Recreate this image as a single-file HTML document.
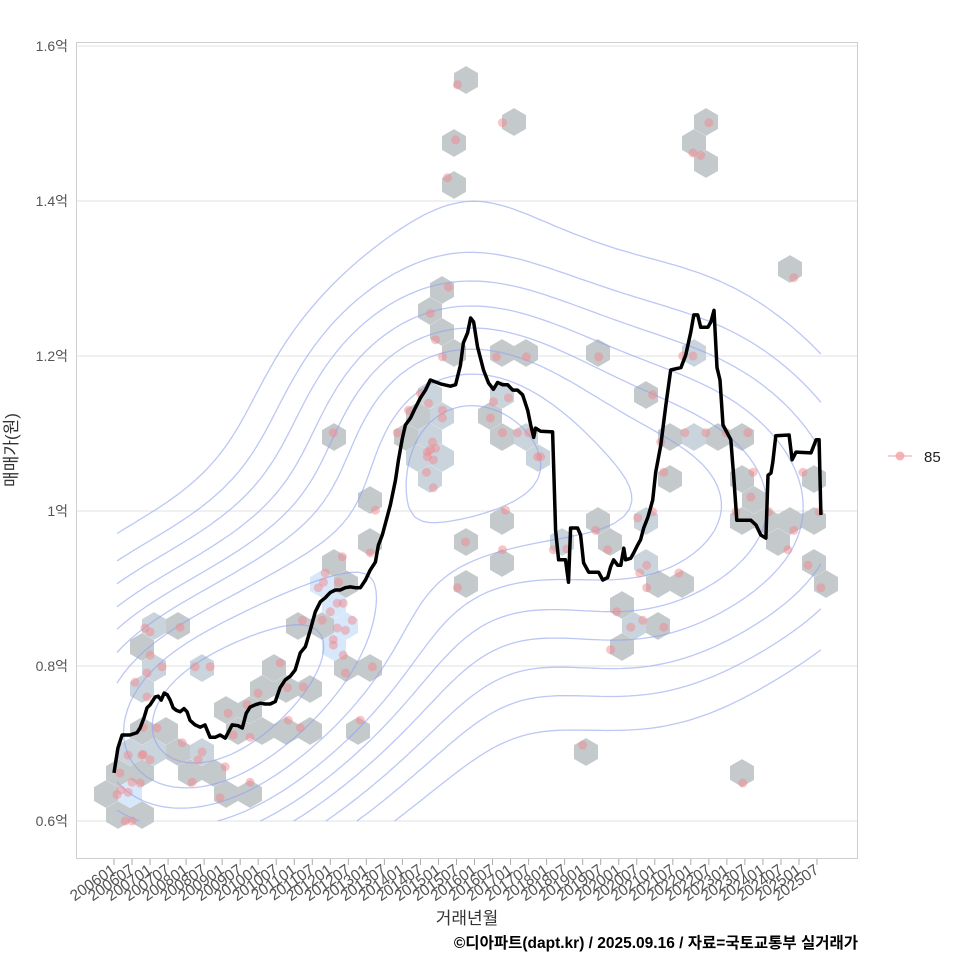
<!DOCTYPE html>
<html><head><meta charset="utf-8"><style>
html,body{margin:0;padding:0;background:#fff;}
svg{display:block;font-family:"Liberation Sans","Noto Sans CJK KR",sans-serif;}
</style></head><body>
<svg id="chart" width="960" height="960" viewBox="0 0 960 960">
<rect x="0" y="0" width="960" height="960" fill="#fff"/>
<g id="grid"></g><g id="hex"></g><g id="contour"></g><g id="pts"></g><g id="line"></g><g id="axes"></g>
<rect x="76.5" y="42.5" width="781" height="816" fill="none" stroke="#cfcfcf"/>
<text x="17" y="450" transform="rotate(-90 17 450)" text-anchor="middle" font-size="17" fill="#333">매매가(원)</text>
<text x="467" y="924" text-anchor="middle" font-size="17" fill="#333">거래년월</text>
<text x="858" y="948" text-anchor="end" font-size="15.5" font-weight="bold" fill="#000">©디아파트(dapt.kr) / 2025.09.16 / 자료=국토교통부 실거래가</text>
<g>
<line x1="888" y1="456" x2="912" y2="456" stroke="#f4a0a8" stroke-width="1.5" opacity="0.7"/>
<circle cx="900" cy="456" r="4.5" fill="#f4a0a8" opacity="0.8"/>
<text x="924" y="462" font-size="15" fill="#222">85</text>
</g>
</svg>
<script>
// data: t = months since 2006-01, v = price (억)
const ptT=[2,2.3,4.7,1,3.7,6,6,8.7,9.7,4.7,9.3,12,9.7,14.3,22.7,29.3,28,26,37,45.3,35.3,38,44.3,48,45.3,39.7,10.3,12,22,12,16,11,7,27,32,11,55.3,57.7,63,58,62,70.3,69.7,74.7,68,72,74.3,76.3,69.3,74.3,77,73,73,79.3,76.3,86,77,82,62.7,76,85.3,87,73,111.3,105.3,107,109.3,127.3,137.3,102,104.7,98,109.3,109.3,126.3,131.3,125.3,94.3,106,105.3,104.3,107,104.3,106.3,104,106.3,129.3,134.3,138,141,130.3,117,129.3,146.3,114.3,114.3,113.7,111,129.3,226.3,161.3,189.3,192.7,179.3,182,190,197,203.7,211,212.7,229.3,183,212,207,218,234.7,179.3,174.3,160.3,164.3,226.3,224.3,231,177.3,175,188,177.3,235.3,167.3,176,172,183,165.3,156,209.3,198,192.7,195.3,150.7,142];
const ptV=[0.662,0.640,0.637,0.634,0.600,0.600,0.650,0.649,0.686,0.685,0.685,0.679,0.721,0.720,0.701,0.689,0.679,0.650,0.670,0.650,0.630,0.739,0.750,0.765,0.708,0.711,0.849,0.844,0.850,0.814,0.799,0.791,0.779,0.799,0.799,0.760,0.804,0.772,0.773,0.730,0.720,0.920,0.908,0.908,0.901,0.870,0.881,0.881,0.859,0.849,0.846,0.834,0.827,0.859,0.814,0.799,0.791,0.730,0.859,0.941,0.946,1.001,1.101,1.289,1.255,1.221,1.199,1.199,1.199,1.152,1.139,1.130,1.130,1.120,1.141,1.146,1.120,1.101,1.089,1.079,1.076,1.081,1.070,1.066,1.050,1.030,1.101,1.101,1.101,1.070,1.001,0.960,0.950,0.950,0.901,1.550,1.479,1.430,1.501,1.301,1.199,1.200,1.200,1.150,1.089,1.101,1.101,1.101,1.101,1.050,1.050,1.050,1.018,0.999,0.999,0.999,0.999,0.991,0.975,0.950,0.975,0.950,0.930,0.930,0.920,0.920,0.901,0.901,0.870,0.859,0.850,0.850,0.821,0.698,0.649,1.501,1.462,1.459,0.951,1.070];
const lineT=[0,1.3,2.7,5.3,7.7,8.7,10,11,12,13.7,14.7,15.7,16.7,17.7,18.7,19.7,20.7,22,23.3,24.3,25.3,27,28.7,30.3,32,33.7,35.3,37,38,39.3,41.3,42.7,44,45.3,47,48.7,50.3,52,53.7,55.3,57,58.7,60.3,62,63.7,65.3,67,68.7,70.3,72,73.7,75.3,77,78.7,80.3,82,83.7,85.3,87,88,89.3,92,93.7,94.7,96,97,98.7,100.3,102,103.7,105.3,108.7,112,113.7,115.3,116.3,117.7,118.7,119.7,121,123,124.7,126.3,127.7,129.3,131,132.7,134.3,136,137.7,138.7,139.7,140.3,142,146,147,148,150.3,151.3,152,154.3,155.3,156.3,158,161.3,162.7,164.3,165.3,166.3,167.7,168.7,169.7,170.3,172,173,174.3,175.3,176.3,177.7,179.3,180.3,182,183.7,185.3,188.7,190.3,192,193,194.3,195.3,197.7,198.7,199.7,200.7,201.7,202.7,205.3,206.3,207.3,212,213.7,215.3,217,217.7,218.7,219.3,220.3,224.7,225.7,227,232,233.7,234.7,235.3];
const lineV=[0.662,0.694,0.711,0.711,0.714,0.720,0.733,0.746,0.750,0.760,0.761,0.756,0.765,0.763,0.756,0.746,0.743,0.741,0.745,0.741,0.730,0.724,0.721,0.724,0.708,0.708,0.711,0.707,0.714,0.724,0.723,0.720,0.739,0.747,0.750,0.752,0.751,0.751,0.754,0.772,0.782,0.787,0.795,0.817,0.825,0.846,0.870,0.883,0.888,0.895,0.898,0.898,0.901,0.902,0.901,0.901,0.911,0.924,0.934,0.956,0.969,1.008,1.040,1.066,1.094,1.111,1.120,1.133,1.146,1.156,1.169,1.164,1.161,1.163,1.188,1.217,1.230,1.249,1.244,1.212,1.182,1.165,1.157,1.166,1.163,1.163,1.156,1.156,1.150,1.130,1.111,1.095,1.107,1.103,1.102,0.975,0.937,0.937,0.908,0.978,0.978,0.969,0.933,0.921,0.921,0.911,0.914,0.928,0.937,0.930,0.930,0.952,0.937,0.939,0.946,0.956,0.963,0.978,0.992,1.014,1.050,1.085,1.137,1.182,1.185,1.201,1.231,1.253,1.253,1.237,1.237,1.244,1.259,1.185,1.169,1.111,1.092,1.043,0.988,0.988,0.982,0.969,0.965,1.046,1.049,1.063,1.097,1.098,1.066,1.076,1.075,1.092,1.092,0.995];
const yTicks=[0.6,0.8,1.0,1.2,1.4,1.6];
const yTickLabels=["0.6억","0.8억","1억","1.2억","1.4억","1.6억"];
const xTickLabels=[];
for(let y=2006;y<=2025;y++){xTickLabels.push(y+"01");xTickLabels.push(y+"07");}

const NS="http://www.w3.org/2000/svg";
const X=t=>114+t*(703/234);
const Y=v=>821-(v-0.6)*775;
function el(tag,attrs,parent){const e=document.createElementNS(NS,tag);for(const k in attrs)e.setAttribute(k,attrs[k]);parent.appendChild(e);return e;}
const G=id=>document.getElementById(id);

yTicks.forEach((v,i)=>{
  const g=el('line',{x1:77,x2:857,y1:Y(v),y2:Y(v),stroke:'#e2e2e2','stroke-width':1},G('grid'));
  
  
  const t=el('text',{x:68,y:Y(v)+5,'text-anchor':'end','font-size':14,fill:'#555'},G('axes'));
  t.textContent=yTickLabels[i];
  
  
});
xTickLabels.forEach((s,i)=>{
  const x=X(i*6);
  const tk=el('line',{x1:x,x2:x,y1:859,y2:865,stroke:'#aaa'},G('axes'));
  
  
  const t=el('text',{x:x+3,y:872,'text-anchor':'end','font-size':15.5,fill:'#555',transform:`rotate(-35 ${x+3} 872)`},G('axes'));
  t.textContent=s;
  
  
});

const HW=24,HR=HW/Math.sqrt(3),HDY=21,OX=454,OY=143;
const bins={};
ptT.forEach((t,i)=>{
  const px=X(t),py=Y(ptV[i]);
  let best=null,bd=1e9;
  const r0=Math.round((py-OY)/HDY);
  for(let r=r0-1;r<=r0+1;r++){
    const off=(((r%2)+2)%2)?HW/2:0;
    const c=Math.round((px-OX-off)/HW);
    for(let cc=c-1;cc<=c+1;cc++){
      const cx=OX+off+cc*HW,cy=OY+r*HDY,d=(cx-px)**2+(cy-py)**2;
      if(d<bd){bd=d;best=[cx,cy];}
    }
  }
  const k=best[0].toFixed(1)+','+best[1].toFixed(1);
  bins[k]=(bins[k]||0)+1;
});
const maxC=Math.max(...Object.values(bins));
for(const k in bins){
  const [cx,cy]=k.split(',').map(Number);const n=bins[k];
  const f=Math.pow((n-1)/Math.max(1,maxC-1),1.5);
  const c1=[196,201,204],c2=[214,232,250];
  const col=`rgb(${c1.map((a,j)=>Math.round(a+(c2[j]-a)*f)).join(',')})`;
  let d='';
  for(let a=0;a<6;a++){const ang=Math.PI/180*(60*a-90);d+=(a?'L':'M')+(cx+HR*Math.cos(ang)).toFixed(1)+','+(cy+HR*Math.sin(ang)).toFixed(1);}
  const h=el('path',{d:d+'Z',fill:col},G('hex'));
  
  
}

function quant(a,q){const s=[...a].sort((x,y)=>x-y);const p=(s.length-1)*q,l=Math.floor(p);return s[l]+(s[Math.min(l+1,s.length-1)]-s[l])*(p-l);}
function bw(a){const n=a.length,m=a.reduce((s,x)=>s+x,0)/n;const sd=Math.sqrt(a.reduce((s,x)=>s+(x-m)**2,0)/(n-1));return 4*1.06*Math.min(sd,(quant(a,.75)-quant(a,.25))/1.34)*Math.pow(n,-0.2);}
const hx=bw(ptT)/4*1.25,hy=bw(ptV)/4*1.35,N=100;
const tmin=Math.min(...ptT),tmax=Math.max(...ptT),vmin=Math.min(...ptV),vmax=Math.max(...ptV);
const gx=[],gy=[];for(let i=0;i<N;i++){gx.push(tmin+(tmax-tmin)*i/(N-1));gy.push(vmin+(vmax-vmin)*i/(N-1));}
const Z=[];let zmax=0;
for(let j=0;j<N;j++){Z.push([]);for(let i=0;i<N;i++){let s=0;for(let k=0;k<ptT.length;k++){const a=(gx[i]-ptT[k])/hx,b=(gy[j]-ptV[k])/hy;s+=Math.exp(-0.5*(a*a+b*b));}Z[j].push(s);if(s>zmax)zmax=s;}}
const levFr=[0.17,0.25,0.33,0.42,0.51,0.6,0.7,0.8,0.9];
levFr.forEach(fr=>{
  const lev=zmax*fr;let d='';
  for(let j=0;j<N-1;j++)for(let i=0;i<N-1;i++){
    const z=[Z[j][i],Z[j][i+1],Z[j+1][i+1],Z[j+1][i]];
    const P=[[gx[i],gy[j]],[gx[i+1],gy[j]],[gx[i+1],gy[j+1]],[gx[i],gy[j+1]]];
    const cr=[];
    for(let e=0;e<4;e++){const a=z[e],b=z[(e+1)%4];if((a<lev)!==(b<lev)){const f=(lev-a)/(b-a);const pa=P[e],pb=P[(e+1)%4];cr.push([X(pa[0]+(pb[0]-pa[0])*f),Y(pa[1]+(pb[1]-pa[1])*f)]);}}
    for(let q=0;q+1<cr.length;q+=2)d+=`M${cr[q][0].toFixed(1)},${cr[q][1].toFixed(1)}L${cr[q+1][0].toFixed(1)},${cr[q+1][1].toFixed(1)}`;
  }
  if(d){const c=el('path',{d:d,fill:'none',stroke:'#8fa2ee','stroke-width':1.3,opacity:0.6},G('contour'));
  
  }
});

ptT.forEach((t,i)=>{
  const c=el('circle',{cx:X(t),cy:Y(ptV[i]),r:4.5,fill:'#f08a90',opacity:0.5},G('pts'));
  
  
});
const ln=el('path',{d:lineT.map((t,i)=>(i?'L':'M')+X(t).toFixed(1)+','+Y(lineV[i]).toFixed(1)).join(''),fill:'none',stroke:'#000','stroke-width':3.5,'stroke-linejoin':'round'},G('line'));


</script>
</body></html>
